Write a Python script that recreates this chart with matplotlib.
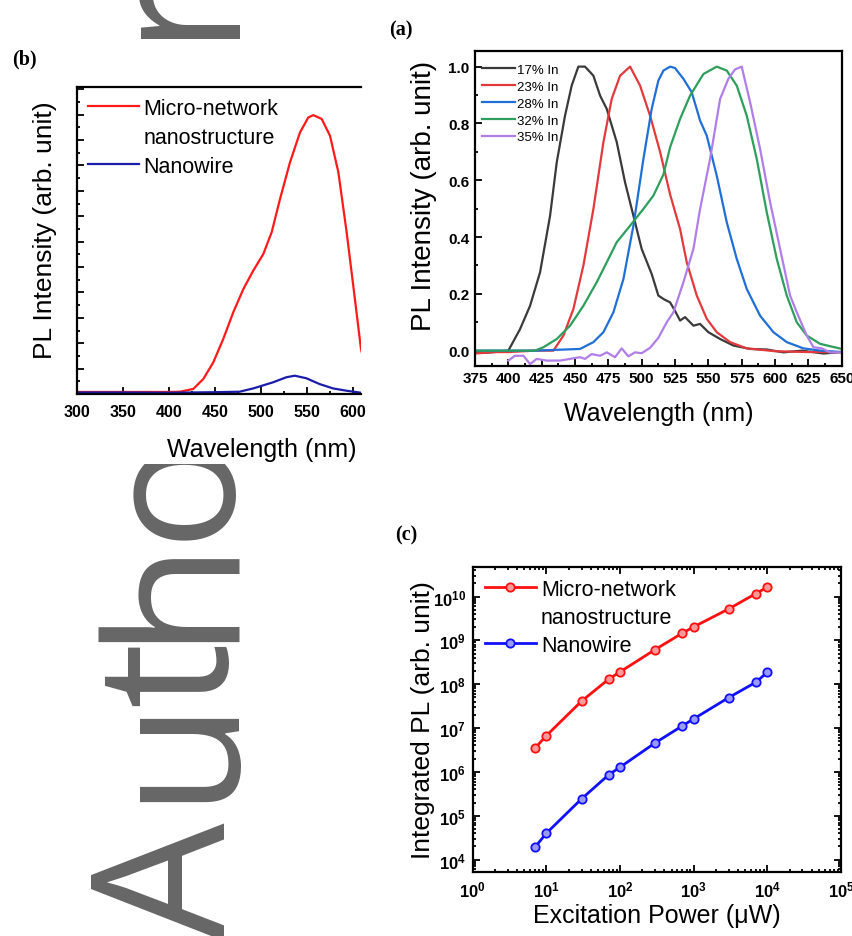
import math
import matplotlib
matplotlib.use('Agg')
import matplotlib.pyplot as plt
import matplotlib.patches as mpatches
from matplotlib.lines import Line2D
from matplotlib.ticker import MultipleLocator, LogLocator, FuncFormatter, NullFormatter

plt.rcParams['font.family'] = ['Liberation Sans', 'DejaVu Sans']
plt.rcParams['mathtext.fontset'] = 'custom'
plt.rcParams['mathtext.rm'] = 'Liberation Sans'
plt.rcParams['mathtext.bf'] = 'Liberation Sans:bold'

# ---- panel (a): normalised PL for different In content ----
wl_17 = [375, 380, 390, 400, 408.8, 416.3, 423.8, 431.3, 436.3, 442.5, 447.5, 452.5, 457.5,
         463.8, 468.8, 473.8, 481.3, 487.5, 493.8, 500, 507.5, 512.5, 517, 521.3, 525, 528.8,
         532.5, 538.8, 543.8, 550, 558.8, 568.8, 581.3, 593.8, 606.3, 620, 636.3, 650]
pl_17 = [-0.006, -0.008, -0.005, 0.0, 0.076, 0.158, 0.276, 0.475, 0.663, 0.827, 0.933, 1.0, 1.0,
         0.968, 0.898, 0.851, 0.734, 0.593, 0.475, 0.358, 0.270, 0.194, 0.18, 0.170, 0.14, 0.106,
         0.118, 0.088, 0.094, 0.065, 0.041, 0.018, 0.006, 0.004, -0.006, 0.0, -0.01, -0.005]

wl_23 = [375, 390, 400, 420, 433.8, 441.3, 448.8, 456.3, 463.8, 471.3, 477.5, 483.8, 491.3,
         498.8, 506.3, 513.8, 521.3, 528.8, 533.8, 541.3, 548.8, 556.3, 566.3, 578.8, 600, 625, 650]
pl_23 = [-0.01, -0.005, -0.005, 0.0, 0.0, 0.053, 0.147, 0.30, 0.499, 0.734, 0.886, 0.968, 1.0,
         0.933, 0.827, 0.70, 0.55, 0.428, 0.311, 0.194, 0.112, 0.065, 0.030, 0.008, -0.002, -0.005, -0.005]

wl_28 = [375, 420, 453.8, 463.8, 471.3, 478.8, 486.3, 493.8, 501.3, 507.5, 512.5, 516.3, 521.3,
         525, 531.3, 537.5, 543.8, 548.8, 556.3, 563.8, 571.3, 578.8, 588.8, 598.8, 608.8, 621.3, 633.8, 650]
pl_28 = [0.0, 0.0, 0.006, 0.03, 0.065, 0.135, 0.252, 0.440, 0.675, 0.851, 0.951, 0.986, 1.0,
         0.995, 0.957, 0.910, 0.810, 0.757, 0.616, 0.452, 0.323, 0.217, 0.123, 0.065, 0.030, 0.008, 0.0, -0.005]

wl_32 = [375, 420, 426.3, 436.3, 446.3, 456.3, 466.3, 473.8, 481.3, 491.3, 501.3, 508.8, 516.3,
         521.3, 528.8, 536.3, 546.3, 556.3, 563.8, 571.3, 578.8, 586.3, 593.8, 601.3, 608.8, 616.3,
         623.8, 633.8, 650]
pl_32 = [0.0, 0.0, 0.012, 0.041, 0.088, 0.158, 0.241, 0.311, 0.382, 0.440, 0.499, 0.546, 0.62,
         0.716, 0.816, 0.898, 0.974, 1.0, 0.986, 0.933, 0.827, 0.675, 0.487, 0.323, 0.194, 0.100,
         0.053, 0.024, 0.006]

wl_35 = [400, 405, 411.3, 416.3, 421.3, 428.8, 438.8, 446.3, 453.8, 457.5, 462.5, 468.8, 473.8,
         480, 485, 490, 495, 500, 506.3, 512.5, 518.8, 523.8, 531.3, 538.8, 543.8, 551.3, 558.8,
         565, 570, 575, 581.3, 588.8, 596.3, 603.8, 611.3, 616.3, 623.8, 628.8, 635, 641.3, 650]
pl_35 = [-0.035, -0.018, -0.018, -0.047, -0.029, -0.035, -0.035, -0.029, -0.023, -0.029, -0.012,
         -0.018, -0.006, -0.023, 0.008, -0.020, -0.006, -0.009, 0.01, 0.045, 0.10, 0.135, 0.241,
         0.358, 0.499, 0.675, 0.886, 0.957, 0.990, 1.0, 0.875, 0.710, 0.523, 0.358, 0.194, 0.135,
         0.053, 0.012, 0.008, -0.006, -0.006]

series_a = [
    ('17% In', wl_17, pl_17, '#3a3a3a'),
    ('23% In', wl_23, pl_23, '#e3393c'),
    ('28% In', wl_28, pl_28, '#1f6fd6'),
    ('32% In', wl_32, pl_32, '#2e9e5c'),
    ('35% In', wl_35, pl_35, '#b07ee6'),
]

# ---- panel (b): PL spectra, micro-network vs nanowire ----
wl_micro = [300, 350, 400, 412, 426.4, 437.3, 448.2, 459.0, 469.9, 480.8, 491.6, 502.5, 511.6,
            520.7, 531.5, 542.4, 551.4, 556.9, 566.0, 575.0, 584.1, 593.1, 600.3, 608.7, 615]
pl_micro = [0.08, 0.08, 0.08, 0.09, 0.20, 0.59, 1.25, 2.17, 3.22, 4.13, 4.86, 5.51, 6.37,
            7.68, 9.12, 10.30, 10.89, 10.98, 10.83, 10.17, 8.73, 6.37, 4.26, 1.77, 0.8]
wl_wire = [300, 350, 400, 448, 476.6, 491.6, 513.1, 527.6, 536.7, 549.3, 563.8, 578.3, 592.8, 608.7, 615]
pl_wire = [0.06, 0.06, 0.05, 0.07, 0.09, 0.22, 0.46, 0.66, 0.72, 0.62, 0.39, 0.22, 0.13, 0.05, 0.05]

# ---- panel (c): integrated PL vs excitation power ----
power = [7, 10, 30, 70, 100, 300, 700, 1000, 3000, 7000, 10000]
ipl_micro = [3.47e6, 6.7e6, 4.1e7, 1.3e8, 1.91e8, 6.18e8, 1.46e9, 2.03e9, 5.23e9, 1.17e10, 1.63e10]
ipl_wire = [1.91e4, 3.99e4, 2.42e5, 8.55e5, 1.28e6, 4.59e6, 1.12e7, 1.62e7, 4.97e7, 1.11e8, 1.88e8]

# watermark letters and where each one starts (pixels from the top)
wm_letters = ['A', 'u', 't', 'h', 'o', 'r']
wm_start_px = [940, 802, 706, 642, 540, 40]

W, H = 853, 937
fig = plt.figure(figsize=(W / 100, H / 100), dpi=100)


def fx(px):
    return px / W


def fy(py):
    return 1 - py / H


# "Author" watermark running up the left margin, mostly hidden behind panel (b)
wm = dict(fontsize=134, family='Open Sans', color='#666666', rotation=90,
          rotation_mode='anchor', ha='left', va='baseline', zorder=-3)
for ch, start in zip(wm_letters, wm_start_px):
    fig.text(fx(225), fy(start), ch, **wm)
fig.add_artist(mpatches.Rectangle((0, fy(465)), fx(372), fy(40) - fy(465),
                                  transform=fig.transFigure, facecolor='white',
                                  edgecolor='none', zorder=-2))


def style_box(ax, lw=1.6):
    for s in ax.spines.values():
        s.set_linewidth(lw)


# panel (a)
ax_a = fig.add_axes([fx(475), fy(366.7), fx(841.7 - 475), fy(52) - fy(366.7)])
for name, x, y, c in series_a:
    ax_a.plot(x, y, color=c, lw=1.6, label=name)
ax_a.set_xlim(375, 650)
ax_a.set_ylim(-0.053, 1.055)
ax_a.xaxis.set_major_locator(MultipleLocator(25))
ax_a.xaxis.set_minor_locator(MultipleLocator(12.5))
ax_a.yaxis.set_major_locator(MultipleLocator(0.2))
ax_a.yaxis.set_minor_locator(MultipleLocator(0.1))
ax_a.yaxis.set_major_formatter(FuncFormatter(lambda v, p: f'{v:.1f}'))
ax_a.tick_params(which='both', direction='in', top=False, right=False, width=1.3)
ax_a.tick_params(which='major', length=5, labelsize=11, pad=4)
ax_a.tick_params(which='minor', length=2.5)
for t in ax_a.get_xticklabels() + ax_a.get_yticklabels():
    t.set_fontweight('bold')
style_box(ax_a)
ax_a.set_xlabel('Wavelength (nm)', fontsize=18, va='center')
ax_a.set_ylabel('PL Intensity (arb. unit)', fontsize=20, va='center')
ax_a.xaxis.set_label_coords(0.5, -0.150)
ax_a.yaxis.set_label_coords(-0.139, 0.542)
ax_a.legend(loc='upper left', bbox_to_anchor=(0.012, 0.968), frameon=False, fontsize=9.5,
            handlelength=2.5, handletextpad=0.15, labelspacing=0.35, borderaxespad=0,
            borderpad=0.2)

# panel (b): the right part is cut off in the source figure
ax_b = fig.add_axes([fx(77), fy(395), fx(361 - 77), fy(87.7) - fy(395)])
l_micro, = ax_b.plot(wl_micro, pl_micro, color='#ff1a1a', lw=1.6)
l_wire, = ax_b.plot(wl_wire, pl_wire, color='#1c1caa', lw=1.6)
ax_b.set_xlim(300, 608.7)
ax_b.set_ylim(0, 12.1)
ax_b.xaxis.set_major_locator(MultipleLocator(50))
ax_b.xaxis.set_minor_locator(MultipleLocator(25))
ax_b.yaxis.set_major_locator(MultipleLocator(1))
ax_b.yaxis.set_minor_locator(MultipleLocator(0.5))
ax_b.tick_params(which='both', direction='in', top=False, right=False, width=1.3, labelleft=False)
ax_b.tick_params(which='major', length=5, labelsize=11.5, pad=7)
ax_b.tick_params(which='minor', length=2.5)
for t in ax_b.get_xticklabels():
    t.set_fontweight('bold')
style_box(ax_b)
ax_b.spines['right'].set_visible(False)
ax_b.set_xlabel('Wavelength (nm)', fontsize=18, va='center')
ax_b.set_ylabel('PL Intensity (arb. unit)', fontsize=19, va='center')
ax_b.xaxis.set_label_coords(0.651, -0.18)
ax_b.yaxis.set_label_coords(-0.113, 0.537)
blank = Line2D([], [], color='none')
ax_b.legend([l_micro, blank, l_wire], ['Micro-network', 'nanostructure', 'Nanowire'],
            loc='upper left', frameon=False, fontsize=15.5, handlelength=2.35,
            handletextpad=0.2, labelspacing=0.37, borderaxespad=0.42, borderpad=0.1)

# panel (c)
ax_c = fig.add_axes([fx(472.7), fy(873.3), fx(841 - 472.7), fy(567.7) - fy(873.3)])
m_micro, = ax_c.plot(power, ipl_micro, color='#ff1010', lw=2, marker='o', ms=6,
                     mfc='#ff9a9a', mec='#ff1010', mew=1.3)
m_wire, = ax_c.plot(power, ipl_wire, color='#1010ff', lw=2, marker='o', ms=6,
                    mfc='#9a9aff', mec='#1010ff', mew=1.3)
ax_c.set_xscale('log')
ax_c.set_yscale('log')
ax_c.set_xlim(1, 1e5)
ax_c.set_ylim(10 ** 3.71, 10 ** 10.68)
sci = FuncFormatter(lambda v, p: r'$\mathbf{10^{%d}}$' % round(math.log10(v)))
ax_c.xaxis.set_major_locator(LogLocator(base=10, numticks=10))
ax_c.yaxis.set_major_locator(LogLocator(base=10, numticks=10))
ax_c.xaxis.set_minor_locator(LogLocator(base=10, subs=range(2, 10), numticks=10))
ax_c.yaxis.set_minor_locator(LogLocator(base=10, subs=range(2, 10), numticks=10))
ax_c.xaxis.set_major_formatter(sci)
ax_c.yaxis.set_major_formatter(sci)
ax_c.xaxis.set_minor_formatter(NullFormatter())
ax_c.yaxis.set_minor_formatter(NullFormatter())
ax_c.tick_params(which='both', direction='in', top=True, right=True, width=1.3)
ax_c.tick_params(which='major', length=5, labelsize=12, pad=5)
ax_c.tick_params(which='minor', length=2.5)
style_box(ax_c)
ax_c.set_xlabel('Excitation Power (\u03bcW)', fontsize=18, va='center')
ax_c.set_ylabel('Integrated PL (arb. unit)', fontsize=19, va='center')
ax_c.xaxis.set_label_coords(0.5, -0.14)
ax_c.yaxis.set_label_coords(-0.135, 0.5)
ax_c.legend([m_micro, blank, m_wire], ['Micro-network', 'nanostructure', 'Nanowire'],
            loc='upper left', frameon=False, fontsize=15.5, handlelength=2.4,
            handletextpad=0.22, labelspacing=0.33, borderaxespad=0.45, borderpad=0.1)

# panel letters
lab = dict(family='Liberation Serif', fontweight='bold', fontsize=14.5, ha='center', va='center')
fig.text(fx(401), fy(30), '(a)', **lab)
fig.text(fx(24), fy(59), '(b)', **lab)
fig.text(fx(406), fy(535), '(c)', **lab)

fig.savefig('out.png', dpi=100)
